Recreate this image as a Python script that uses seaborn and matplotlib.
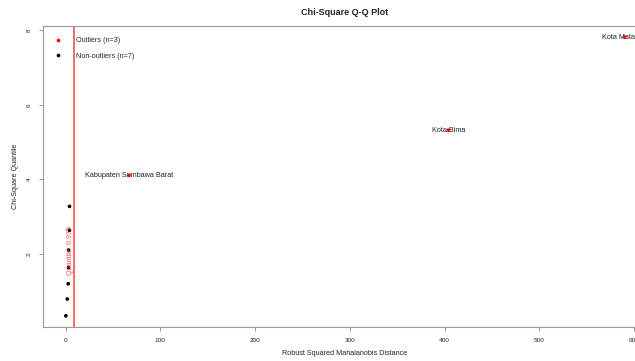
import matplotlib
matplotlib.use("Agg")
import matplotlib.pyplot as plt
import seaborn as sns
import pandas as pd

sns.set_style("white")
plt.rcParams["font.family"] = ["Liberation Sans", "DejaVu Sans"]

# Robust squared Mahalanobis distances and chi-square (df=3) quantiles
regions = ["", "", "", "", "", "", "",
           "Kabupaten Sumbawa Barat", "Kota Bima", "Kota Mataram"]
distance = [0.3, 1.8, 2.8, 3.1, 3.1, 4.2, 4.2, 66.9, 404.0, 590.0]
quantile = [0.35, 0.80, 1.21, 1.64, 2.11, 2.64, 3.28, 4.11, 5.32, 7.81]
is_outlier = [False] * 7 + [True] * 3
cutoff = 9.35
cutoff_label = "Quantile: 0.975"
xticks = [0, 100, 200, 300, 400, 500, 600]
yticks = [2, 4, 6, 8]

df = pd.DataFrame({"region": regions, "distance": distance,
                   "quantile": quantile, "outlier": is_outlier})
n_out = int(df["outlier"].sum())
n_in = len(df) - n_out
df["group"] = df["outlier"].map({True: f"Outliers (n={n_out})",
                                 False: f"Non-outliers (n={n_in})"})

fig = plt.figure(figsize=(6.35, 3.61), dpi=100)
ax = fig.add_axes([43 / 635, 1 - 327 / 361, 604 / 635, 301 / 361])

sns.scatterplot(data=df, x="distance", y="quantile", hue="group",
                hue_order=[f"Outliers (n={n_out})", f"Non-outliers (n={n_in})"],
                palette=["red", "black"], s=7, linewidth=0, ax=ax, zorder=3)

ax.axvline(cutoff, color="#ff5c5c", lw=1.3, zorder=2)
ax.text(cutoff - 0.5, 2.1, cutoff_label, rotation=90, color="#ff4d4d",
        ha="right", va="center", fontsize=5.2)

for _, r in df[df["outlier"]].iterrows():
    ax.text(r["distance"], r["quantile"], r["region"], ha="center",
            va="center", fontsize=5.2, color="#222222", zorder=2)

lo, hi = min(distance), max(distance)
pad = 0.04 * (hi - lo)
ax.set_xlim(lo - pad - 0.5, hi + pad)
qlo, qhi = min(quantile), max(quantile)
qpad = 0.04 * (qhi - qlo)
ax.set_ylim(qlo - qpad, qhi + qpad)

ax.set_xticks(xticks)
ax.set_yticks(yticks)
ax.tick_params(axis="both", labelsize=4.6, length=3, width=0.6,
               color="#888888", direction="out", bottom=True, left=True,
               pad=5)
for lab in ax.get_yticklabels():
    lab.set_rotation(90)
    lab.set_va("center")
for sp in ax.spines.values():
    sp.set_color("#999999")
    sp.set_linewidth(0.8)

ax.set_xlabel("Robust Squared Mahalanobis Distance", fontsize=5.2, labelpad=5)
ax.set_ylabel("Chi-Square Quantile", fontsize=5.2, labelpad=6)
ax.set_title("Chi-Square Q-Q Plot", fontsize=6.5, fontweight="bold", pad=8)

ax.legend(loc="upper left", bbox_to_anchor=(0.008, 0.972), frameon=False,
          fontsize=5.2, handletextpad=1.5, markerscale=1.0,
          labelspacing=1.15, borderaxespad=0)

fig.savefig("out.png", dpi=100)
